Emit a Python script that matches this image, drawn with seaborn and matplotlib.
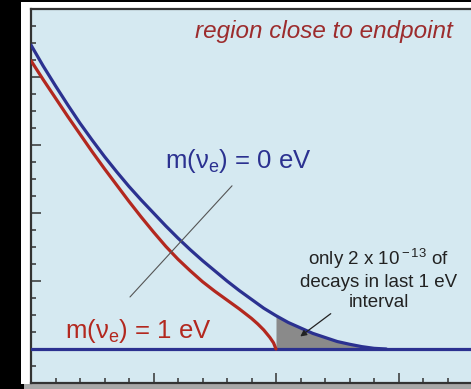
import numpy as np
import pandas as pd
import matplotlib
matplotlib.use("Agg")
import matplotlib.pyplot as plt
from matplotlib.patches import Rectangle
import seaborn as sns

# ---- data (energy offset, relative rate) ----
blue_x = [0.0, 0.1, 0.2, 0.3, 0.4, 0.5, 0.6, 0.7, 0.8, 0.9, 1.0, 1.1, 1.2, 1.3, 1.4,
          1.5, 1.6, 1.7, 1.8, 1.9, 2.0, 2.1, 2.2, 2.3, 2.4, 2.5, 2.6, 2.7, 2.8, 2.9]
blue_y = [4.47, 4.16, 3.87, 3.59, 3.32, 3.07, 2.83, 2.605, 2.39, 2.19, 2.00, 1.81, 1.63, 1.46, 1.30,
          1.15, 1.00, 0.86, 0.73, 0.60, 0.49, 0.39, 0.31, 0.23, 0.17, 0.11, 0.07, 0.035, 0.01, 0.0]
red_x = [0.0, 0.1, 0.2, 0.3, 0.4, 0.5, 0.6, 0.7, 0.8, 0.9, 1.0, 1.1, 1.2, 1.3, 1.4,
         1.5, 1.6, 1.7, 1.8, 1.85, 1.9, 1.95, 1.98, 2.0]
red_y = [4.24, 3.96, 3.69, 3.42, 3.16, 2.90, 2.65, 2.41, 2.17, 1.94, 1.72, 1.51, 1.32, 1.15, 0.99,
         0.85, 0.72, 0.59, 0.45, 0.37, 0.28, 0.17, 0.09, 0.0]
shade_start = 2.0

title_text = "region close to endpoint"
label_m0 = "m(ν$_{\\rm e}$) = 0 eV"
label_m1 = "m(ν$_{\\rm e}$) = 1 eV"
note_text = "only 2 x 10$^{\\rm -13}$ of\ndecays in last 1 eV\ninterval"

BLUE = "#2b3190"
RED = "#b3281f"
TITLE_RED = "#9c2c2d"
BG = "#d5e9f1"

sns.set_style("ticks")
plt.rcParams["font.family"] = ["Liberation Sans", "DejaVu Sans"]
plt.rcParams["mathtext.fontset"] = "custom"
plt.rcParams["mathtext.rm"] = "Liberation Sans"
plt.rcParams["mathtext.it"] = "Liberation Sans:italic"

W, H = 471, 389
fig = plt.figure(figsize=(W / 100, H / 100), dpi=100, facecolor="black")

# paper background and shadow
fig.patches.append(Rectangle((21 / W, (H - 384) / H), (W - 21) / W, 382 / H,
                             transform=fig.transFigure, facecolor="white", edgecolor="none", zorder=-10))
fig.patches.append(Rectangle((24 / W, 0), (W - 24) / W, (H - 384) / H,
                             transform=fig.transFigure, facecolor="#a8a8a8", edgecolor="none", zorder=-10))

ax = fig.add_axes([31 / W, (H - 383) / H, 490 / W, 374 / H])
ax.set_facecolor(BG)
ax.set_xlim(0, 4)
ax.set_ylim(-0.5, 5)

df_b = pd.DataFrame({"x": blue_x, "y": blue_y})
df_r = pd.DataFrame({"x": red_x, "y": red_y})

# shaded last-eV region under m=0 curve
sub = df_b[df_b["x"] >= shade_start]
ax.fill_between(sub["x"], 0, sub["y"], color="#8a8a8a", linewidth=0, zorder=2)

ax.axhline(0, color=BLUE, lw=2.3, zorder=3)
sns.lineplot(data=df_r, x="x", y="y", ax=ax, color=RED, lw=2.3, sort=False,
             estimator=None, zorder=4)
sns.lineplot(data=df_b, x="x", y="y", ax=ax, color=BLUE, lw=2.3, sort=False,
             estimator=None, zorder=4)

# pointer line
ax.plot([1.641, 0.808], [2.40, 0.765], color="#555555", lw=0.8, zorder=5)

ax.text(3.445, 4.57, title_text, color=TITLE_RED, fontsize=17.5, style="italic",
        ha="right", va="baseline")
ax.text(1.094, 2.66, label_m0, color=BLUE, fontsize=18.5, ha="left", va="baseline")
ax.text(0.278, 0.16, label_m1, color=RED, fontsize=18.5, ha="left", va="baseline")
ax.text(2.84, 1.03, note_text, color="#222222", fontsize=13.5, ha="center", va="center",
        linespacing=1.25)
ax.annotate("", xy=(2.18, 0.16), xytext=(2.465, 0.544),
            arrowprops=dict(arrowstyle="-|>", color="#222222", lw=0.9,
                            mutation_scale=9), zorder=6)

# frame and ticks
for s in ["left", "bottom", "top"]:
    ax.spines[s].set_color("#333333")
    ax.spines[s].set_linewidth(1.6)
ax.spines["right"].set_visible(False)
ax.set_xticks(np.arange(0, 4.01, 1))
ax.set_xticks(np.arange(0, 4.01, 0.2), minor=True)
ax.set_yticks(np.arange(0, 5.01, 1))
ax.set_yticks(np.arange(-0.5, 5.01, 0.25), minor=True)
ax.tick_params(which="both", direction="in", color="#333333", width=1.1,
               labelbottom=False, labelleft=False, top=False, right=False)
ax.tick_params(which="major", length=7.5)
ax.tick_params(which="minor", length=3.8)
ax.set_xlabel("")
ax.set_ylabel("")
leg = ax.get_legend()
if leg:
    leg.remove()

fig.savefig("out.png", dpi=100, facecolor=fig.get_facecolor())
